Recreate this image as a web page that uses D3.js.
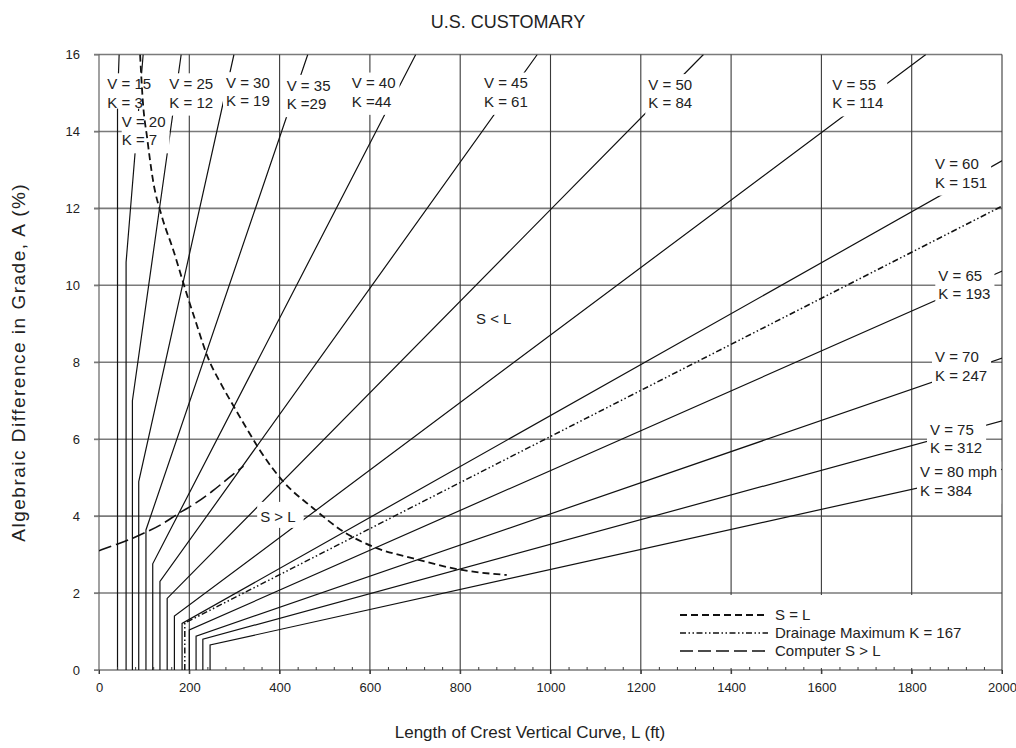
<!DOCTYPE html>
<html>
<head>
<meta charset="utf-8">
<script src="https://cdn.jsdelivr.net/npm/d3@7"></script>
<style>
  html, body { margin: 0; padding: 0; background: #fff; }
  svg { display: block; font-family: "Liberation Sans", Arial, Helvetica, sans-serif; }
</style>
</head>
<body>
<svg id="chart" width="1016" height="748"></svg>
<script>
// ---- design speeds, rate of vertical curvature K and minimum curve lengths ----
const speeds      = [15, 20, 25, 30, 35, 40, 45, 50, 55, 60, 65, 70, 75, 80];
const kValues     = [3, 7, 12, 19, 29, 44, 61, 84, 114, 151, 193, 247, 312, 384];
const minLengths  = [41, 60, 74, 88, 104, 119, 135, 151, 167, 184, 200, 215, 230, 246];
const kinkGrades  = [14.8, 10.6, 7.0, 4.9, 3.64, 2.76, 2.30, 1.86, 1.40, 1.21, 1.04, 0.88, 0.80, 0.65];
const vLabels = ["V = 15", "V = 20", "V = 25", "V = 30", "V = 35", "V = 40", "V = 45",
                 "V = 50", "V = 55", "V = 60", "V = 65", "V = 70", "V = 75", "V = 80 mph"];
const kLabels = ["K = 3", "K = 7", "K = 12", "K = 19", "K =29", "K =44", "K = 61",
                 "K = 84", "K = 114", "K = 151", "K = 193", "K = 247", "K = 312", "K = 384"];

// drainage maximum line
const drainageK = 167;
const drainageMinLength = 190;
const drainageKink = 1.22;

// S = L boundary (L ft, A %)
const sEqualsL = [[91, 16.0], [97, 14.8], [107, 13.8], [120, 12.7], [139, 11.8], [165, 10.9],
                  [191, 9.9], [213, 9.1], [242, 8.1], [272, 7.4], [301, 6.8], [331, 6.2],
                  [357, 5.7], [408, 4.9], [475, 4.2], [541, 3.6], [608, 3.2], [696, 2.9],
                  [804, 2.6], [903, 2.47]];

// computed S > L curve (L ft, A %)
const computerSL = [[0, 3.10], [35, 3.25], [65, 3.38], [100, 3.56], [139, 3.79], [176, 4.07],
                    [213, 4.33], [250, 4.64], [286, 4.98], [320, 5.30]];

const xTicks = [0, 200, 400, 600, 800, 1000, 1200, 1400, 1600, 1800, 2000];
const yTicks = [0, 2, 4, 6, 8, 10, 12, 14, 16];

// ---- layout ----
const plotLeft = 99, plotRight = 1002, plotTop = 54.5, plotBottom = 670;
const x = d3.scaleLinear().domain([0, 2000]).range([plotLeft, plotRight]);
const y = d3.scaleLinear().domain([0, 16]).range([plotBottom, plotTop]);

// where each V/K label sits (L ft, A %) — left edge of text, first baseline
const labelSpots = [[18.4, 15.10], [50.3, 14.12], [155.7, 15.10], [281.3, 15.13], [415.7, 15.06],
                    [559.7, 15.12], [852.7, 15.12], [1216.6, 15.08], [1624, 15.08], [1851.6, 13.02],
                    [1858.9, 10.12], [1851.6, 8.00], [1840.5, 6.11], [1818.4, 5.01]];
const labelPad = speeds.map((s, i) => ({ l: i === 1 ? 0 : 3, r: 4, t: 5, b: i === 0 ? 1 : 8 }));

const svg = d3.select("#chart");

svg.append("defs").append("clipPath").attr("id", "plotClip")
  .append("rect").attr("x", plotLeft).attr("y", plotTop)
  .attr("width", plotRight - plotLeft).attr("height", plotBottom - plotTop);

// ---- grid ----
const grid = svg.append("g");
grid.selectAll("line.h").data(yTicks).join("line")
  .attr("x1", plotLeft - 5).attr("x2", plotRight)
  .attr("y1", d => y(d)).attr("y2", d => y(d))
  .attr("stroke", "#7a7a7a").attr("stroke-width", 1.6);
grid.selectAll("line.v").data(xTicks).join("line")
  .attr("x1", d => x(d)).attr("x2", d => x(d))
  .attr("y1", plotTop).attr("y2", plotBottom + 4)
  .attr("stroke", d => d === 0 ? "#555" : "#3a3a3a").attr("stroke-width", 1.1);

// ---- curves ----
const line = d3.line().x(d => x(d[0])).y(d => y(d[1]));
const curves = svg.append("g").attr("clip-path", "url(#plotClip)");

speeds.forEach((v, i) => {
  const L0 = minLengths[i], a0 = kinkGrades[i], k = kValues[i];
  const pts = [[L0, 0], [L0, a0], [L0 + k * (16 - a0), 16]];
  curves.append("path").attr("d", line(pts))
    .attr("fill", "none").attr("stroke", "#111").attr("stroke-width", 1.2);
});

// drainage maximum
curves.append("path")
  .attr("d", line([[drainageMinLength, 0], [drainageMinLength, drainageKink],
                   [drainageMinLength + drainageK * (16 - drainageKink), 16]]))
  .attr("fill", "none").attr("stroke", "#111").attr("stroke-width", 1.5)
  .attr("stroke-dasharray", "6,2.5,1.5,2.5,1.5,2.5");

// computed S > L
curves.append("path").attr("d", d3.line().x(d => x(d[0])).y(d => y(d[1])).curve(d3.curveMonotoneX)(computerSL))
  .attr("fill", "none").attr("stroke", "#111").attr("stroke-width", 1.6)
  .attr("stroke-dasharray", "13,5");

// ---- V / K labels with white backing ----
const boxes = svg.append("g");
const labels = svg.append("g").attr("font-size", 15).attr("fill", "#222");
speeds.forEach((v, i) => {
  const px = x(labelSpots[i][0]), py = y(labelSpots[i][1]);
  const t = labels.append("text").attr("x", px).attr("y", py);
  t.append("tspan").attr("x", px).attr("y", py).text(vLabels[i]);
  t.append("tspan").attr("x", px).attr("y", py + 18.5).text(kLabels[i]);
  const w = t.node().getBBox().width;
  const p = labelPad[i];
  boxes.append("rect")
    .attr("x", px - p.l).attr("y", py - 10.8 - p.t)
    .attr("width", w + p.l + p.r).attr("height", 10.8 + 18.5 + p.t + p.b)
    .attr("fill", "#fff");
});

// region labels
const sgtX = x(357), sgtY = y(3.85);
const sgt = labels.append("text").attr("x", sgtX).attr("y", sgtY).text("S > L");
boxes.append("rect").attr("x", sgtX - 3).attr("y", sgtY - 20)
  .attr("width", sgt.node().getBBox().width + 11).attr("height", 26).attr("fill", "#fff");
labels.append("text").attr("x", x(835)).attr("y", y(9.0)).text("S < L");

// legend
const legendRows = [
  { label: "S = L", dash: "7,4", width: 1.8 },
  { label: "Drainage Maximum K = 167", dash: "6,2.5,1.5,2.5,1.5,2.5", width: 1.5 },
  { label: "Computer S > L", dash: "13,5", width: 1.6 }
];
boxes.append("rect").attr("x", x(1215)).attr("y", y(1.95))
  .attr("width", x(1995) - x(1215)).attr("height", y(0.05) - y(1.95)).attr("fill", "#fff");
const legend = svg.append("g").attr("font-size", 15).attr("fill", "#222");
legendRows.forEach((r, i) => {
  const cy = 615 + i * 18;
  legend.append("line").attr("x1", 680).attr("x2", 768).attr("y1", cy).attr("y2", cy)
    .attr("stroke", "#111").attr("stroke-width", r.width).attr("stroke-dasharray", r.dash);
  legend.append("text").attr("x", 775).attr("y", cy + 5.4).text(r.label);
});

// S = L boundary drawn over the labels
svg.append("path").attr("clip-path", "url(#plotClip)")
  .attr("d", d3.line().x(d => x(d[0])).y(d => y(d[1])).curve(d3.curveMonotoneX)(sEqualsL))
  .attr("fill", "none").attr("stroke", "#111").attr("stroke-width", 1.8)
  .attr("stroke-dasharray", "7,4");

// ---- axes ----
const xAxis = svg.append("g").attr("transform", `translate(0,${plotBottom})`)
  .call(d3.axisBottom(x).tickValues(xTicks).tickSize(4).tickPadding(9).tickFormat(d3.format("d")));
xAxis.select(".domain").remove();
xAxis.selectAll(".tick line").attr("stroke", "#3a3a3a");
xAxis.selectAll("text").attr("font-size", 13).attr("fill", "#222")
  .attr("font-family", "Liberation Sans, Arial, sans-serif");

const minor = d3.range(40, 2000, 40).filter(d => d % 200 !== 0);
const xMinor = svg.append("g").attr("transform", `translate(0,${plotBottom})`)
  .call(d3.axisTop(x).tickValues(minor).tickSize(3).tickFormat(""));
xMinor.select(".domain").remove();
xMinor.selectAll(".tick line").attr("stroke", "#3a3a3a");

const yAxis = svg.append("g").attr("transform", `translate(${plotLeft},0)`)
  .call(d3.axisLeft(y).tickValues(yTicks).tickSize(5).tickPadding(14));
yAxis.select(".domain").remove();
yAxis.selectAll(".tick line").attr("stroke", "#7a7a7a");
yAxis.selectAll("text").attr("font-size", 13).attr("fill", "#222")
  .attr("font-family", "Liberation Sans, Arial, sans-serif");

// ---- titles ----
svg.append("text").attr("x", 508).attr("y", 28).attr("text-anchor", "middle")
  .attr("font-size", 18).attr("fill", "#222").text("U.S. CUSTOMARY");
svg.append("text").attr("x", 530).attr("y", 738).attr("text-anchor", "middle")
  .attr("font-size", 17).attr("fill", "#222").text("Length of Crest Vertical Curve, L (ft)");
svg.append("text").attr("transform", `translate(25,${(plotTop + plotBottom) / 2}) rotate(-90)`)
  .attr("text-anchor", "middle").attr("font-size", 19).attr("letter-spacing", 1.5).attr("fill", "#222")
  .text("Algebraic Difference in Grade, A (%)");
</script>
</body>
</html>
